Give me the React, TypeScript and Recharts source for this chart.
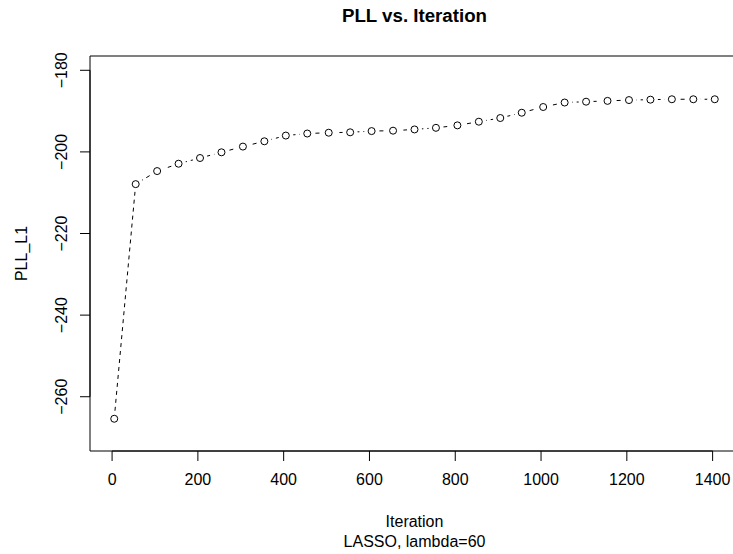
import React from 'react';
import { LineChart, Line, XAxis, YAxis, ReferenceArea, ReferenceLine } from 'recharts';

const iterations = [5, 55, 105, 155, 205, 255, 305, 355, 405, 455, 505, 555, 605, 655, 705, 755, 805, 855, 905, 955, 1005, 1055, 1105, 1155, 1205, 1255, 1305, 1355, 1405];
const pllValues = [-265.4, -207.9, -204.7, -202.9, -201.5, -200.1, -198.7, -197.4, -196.0, -195.5, -195.3, -195.2, -194.9, -194.8, -194.5, -194.1, -193.5, -192.6, -191.7, -190.4, -189.0, -187.9, -187.7, -187.5, -187.3, -187.2, -187.1, -187.1, -187.1];
const xTicks = [0, 200, 400, 600, 800, 1000, 1200, 1400];
const yTicks = [-260, -240, -220, -200, -180];
const xDomain: [number, number] = [-51.5, 1461.5];
const yDomain: [number, number] = [-273.3, -176.5];

const titleText = 'PLL vs. Iteration';
const xLabelText = 'Iteration';
const subText = 'LASSO, lambda=60';
const yLabelText = 'PLL_L1';

const data = iterations.map((it, i) => ({ iteration: it, pll: pllValues[i] }));

const FONT = '"Liberation Sans", Arial, Helvetica, sans-serif';

const fmt = (v: number) => (v < 0 ? '\u2212' + Math.abs(v) : String(v));

const XTick = (props: any) => {
  const { x, y, payload } = props;
  return (
    <text x={x} y={y + 16} textAnchor="middle" dominantBaseline="central" fontSize={16} fontFamily={FONT} fill="#000">
      {fmt(payload.value)}
    </text>
  );
};

const YTick = (props: any) => {
  const { x, y, payload } = props;
  const cx = x - 16;
  return (
    <text x={cx} y={y} transform={`rotate(-90, ${cx}, ${y})`} textAnchor="middle" dominantBaseline="central" fontSize={16} fontFamily={FONT} fill="#000">
      {fmt(payload.value)}
    </text>
  );
};

const Dot = (props: any) => {
  const { cx, cy, index } = props;
  if (cx == null || cy == null) return null;
  return (
    <g key={`dot-${index}`}>
      <circle cx={cx} cy={cy} r={7.5} fill="#fff" stroke="none" />
      <circle cx={cx} cy={cy} r={3.5} fill="#fff" stroke="#000" strokeWidth={1} />
    </g>
  );
};

const XLabel = (props: any) => {
  const vb = props.viewBox || { x: 90, y: 451, width: 649, height: 103 };
  const cx = vb.x + vb.width / 2;
  return (
    <g>
      <text x={cx} y={vb.y + 70} textAnchor="middle" dominantBaseline="central" fontSize={16} fontFamily={FONT} fill="#000">{xLabelText}</text>
      <text x={cx} y={vb.y + 90} textAnchor="middle" dominantBaseline="central" fontSize={16} fontFamily={FONT} fill="#000">{subText}</text>
    </g>
  );
};

const YLabel = (props: any) => {
  const vb = props.viewBox || { x: 0, y: 56, width: 90, height: 395 };
  const cx = vb.x + 21;
  const cy = vb.y + vb.height / 2;
  return (
    <text x={cx} y={cy} transform={`rotate(-90, ${cx}, ${cy})`} textAnchor="middle" dominantBaseline="central" fontSize={16} fontFamily={FONT} fill="#000">
      {yLabelText}
    </text>
  );
};

export default function App() {
  return (
    <div style={{ position: 'absolute', left: 0, top: 0, width: 733, height: 554, overflow: 'hidden', background: '#fff' }}>
      <div
        style={{
          position: 'absolute',
          left: 0,
          top: 0,
          width: 829,
          height: 32,
          lineHeight: '32px',
          textAlign: 'center',
          fontFamily: FONT,
          fontWeight: 'bold',
          fontSize: 18.7,
          color: '#000',
        }}
      >
        {titleText}
      </div>
      <LineChart width={745} height={554} data={data} margin={{ top: 56, right: 6, bottom: 0, left: 0 }}>
        <XAxis
          dataKey="iteration"
          type="number"
          domain={xDomain}
          ticks={xTicks}
          allowDataOverflow
          height={103}
          axisLine={false}
          tickLine={{ stroke: '#000', strokeWidth: 1 }}
          tickSize={10}
          tick={<XTick />}
          interval={0}
          label={<XLabel />}
        />
        <YAxis
          type="number"
          domain={yDomain}
          ticks={yTicks}
          allowDataOverflow
          width={90}
          axisLine={false}
          tickLine={{ stroke: '#000', strokeWidth: 1 }}
          tickSize={10}
          tick={<YTick />}
          interval={0}
          label={<YLabel />}
        />
        <ReferenceArea
          x1={xDomain[0]}
          x2={xDomain[1]}
          y1={yDomain[0]}
          y2={yDomain[1]}
          fill="none"
          fillOpacity={0}
          stroke="#000"
          strokeWidth={1}
          ifOverflow="visible"
        />
        <ReferenceLine
          segment={[{ x: xTicks[0], y: yDomain[0] }, { x: xTicks[xTicks.length - 1], y: yDomain[0] }]}
          stroke="#000"
          strokeWidth={1}
          ifOverflow="visible"
        />
        <ReferenceLine
          segment={[{ x: xDomain[0], y: yTicks[0] }, { x: xDomain[0], y: yTicks[yTicks.length - 1] }]}
          stroke="#000"
          strokeWidth={1}
          ifOverflow="visible"
        />
        <Line
          type="linear"
          dataKey="pll"
          stroke="#000"
          strokeWidth={1}
          strokeDasharray="4 4"
          dot={<Dot />}
          activeDot={false}
          isAnimationActive={false}
        />
      </LineChart>
    </div>
  );
}
